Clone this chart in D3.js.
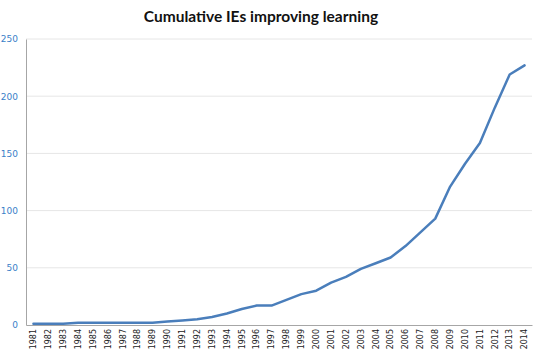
<!DOCTYPE html>
<html><head><meta charset="utf-8">
<script src="https://cdn.jsdelivr.net/npm/d3@7"></script>
<style>body{margin:0;background:#fff}svg{display:block}</style>
</head><body>
<script>
const years = ["1981","1982","1983","1984","1985","1986","1987","1988","1989","1990","1991","1992","1993","1994","1995","1996","1997","1998","1999","2000","2001","2002","2003","2004","2005","2006","2007","2008","2009","2010","2011","2012","2013","2014"];
const cumulative = [1,1,1,2,2,2,2,2,2,3,4,5,7,10,14,17,17,22,27,30,37,42,49,54,59,69,81,93,121,141,159,190,219,227];
const yTicks = [0,50,100,150,200,250];
const title = "Cumulative IEs improving learning";

const W = 540, H = 357;
const m = {left: 26, right: 8, top: 39, bottom: 32};
const svg = d3.select("body").append("svg").attr("width", W).attr("height", H);

const x = d3.scaleBand().domain(years).range([m.left, W - m.right]);
const y = d3.scaleLinear().domain([0, 250]).range([H - m.bottom, m.top]);

svg.append("text").attr("x", 261).attr("y", 22).attr("text-anchor", "middle")
  .attr("font-family", "Lato, 'Open Sans', sans-serif").attr("font-weight", "bold")
  .attr("font-size", 15.5).attr("fill", "#111").text(title);

// gridlines
svg.append("g").selectAll("line").data(yTicks.filter(d => d > 0)).join("line")
  .attr("x1", m.left).attr("x2", W - m.right)
  .attr("y1", d => y(d)).attr("y2", d => y(d))
  .attr("stroke", "#e6e6e6").attr("stroke-width", 1);

// y axis
const ya = svg.append("g").attr("transform", `translate(${m.left},0)`)
  .call(d3.axisLeft(y).tickValues(yTicks).tickSize(0).tickPadding(8));
ya.select(".domain").attr("stroke", "#a6a6a6");
ya.selectAll("text").attr("fill", "#3a80c8").attr("font-family", "'DejaVu Sans', sans-serif").attr("font-size", 9);

// x axis
const xa = svg.append("g").attr("transform", `translate(0,${H - m.bottom})`)
  .call(d3.axisBottom(x).tickSize(0).tickSizeOuter(0));
xa.select(".domain").attr("stroke", "#a6a6a6");
xa.selectAll("text")
  .attr("font-family", "'DejaVu Sans', sans-serif").attr("font-size", 8).attr("fill", "#222")
  .attr("transform", "rotate(-90)").attr("text-anchor", "end")
  .attr("x", -4).attr("y", 0).attr("dy", "0.35em");

// line
const line = d3.line().x((d, i) => x(years[i]) + x.bandwidth() / 2).y(d => y(d));
svg.append("path").datum(cumulative).attr("d", line)
  .attr("fill", "none").attr("stroke", "#4a7ebb").attr("stroke-width", 2.5)
  .attr("stroke-linejoin", "round").attr("stroke-linecap", "round");
</script>
</body></html>
